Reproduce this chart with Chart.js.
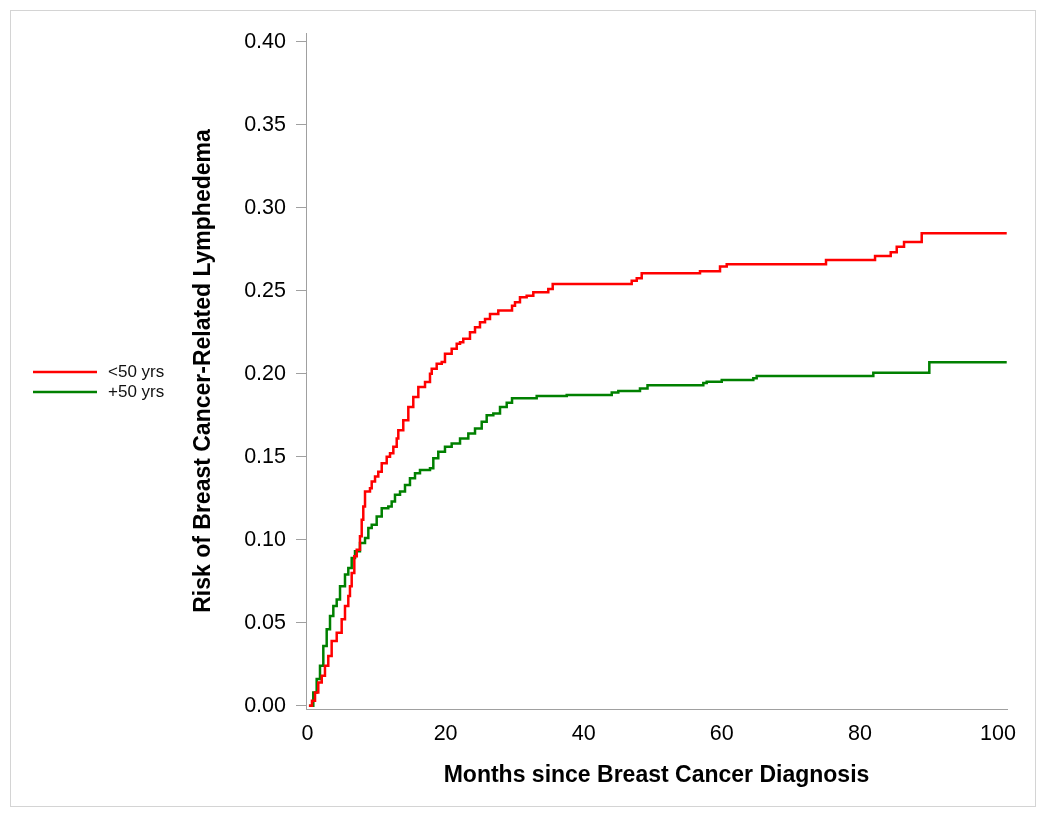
<!DOCTYPE html>
<html><head><meta charset="utf-8">
<script src="https://cdn.jsdelivr.net/npm/chart.js@4/dist/chart.umd.min.js"></script>
<style>html,body{margin:0;padding:0;background:#fff}canvas{display:block}</style>
</head><body>
<canvas id="c" width="1050" height="816"></canvas>
<script>
const seriesNames = ['<50 yrs', '+50 yrs'];
const seriesColors = ['#ff0000', '#008000'];

const under50Months = [0.2,0.65,1.09,1.56,2.06,2.53,3.01,3.50,4.23,4.95,5.43,5.91,6.15,6.40,6.78,7.13,7.60,7.85,8.08,8.33,9.05,9.30,9.78,10.25,10.75,11.47,11.95,12.43,12.92,13.15,13.87,14.60,15.32,16.05,17.02,17.74,17.99,18.71,19.44,19.91,20.88,21.61,22.09,22.56,23.53,24.26,24.98,25.71,26.43,27.63,29.62,30.05,30.77,31.74,32.70,34.87,35.51,46.95,47.68,48.40,56.84,59.74,60.71,75.09,82.19,84.46,85.33,86.39,88.95,101.26];
const under50Risk = [0.000,0.003,0.008,0.014,0.018,0.024,0.030,0.039,0.044,0.052,0.060,0.066,0.072,0.080,0.090,0.094,0.102,0.112,0.120,0.129,0.131,0.135,0.138,0.141,0.146,0.150,0.152,0.156,0.161,0.166,0.172,0.180,0.186,0.192,0.195,0.200,0.203,0.206,0.207,0.212,0.215,0.218,0.219,0.221,0.225,0.228,0.231,0.233,0.236,0.238,0.241,0.243,0.246,0.247,0.249,0.251,0.254,0.256,0.2575,0.2605,0.2617,0.2645,0.2659,0.2685,0.2709,0.2731,0.2765,0.2793,0.2846,0.2846];

const over50Months = [0.22,0.84,1.33,1.81,2.29,2.78,3.26,3.74,4.23,4.71,5.43,5.91,6.40,6.88,7.60,8.33,8.81,9.30,10.02,10.75,11.70,12.19,12.67,13.40,14.12,14.84,15.57,16.29,17.74,18.22,18.94,19.91,20.88,22.09,23.29,24.26,25.23,25.95,26.91,27.88,28.85,29.62,33.19,37.54,44.06,45.01,48.15,49.24,57.32,57.81,59.99,64.56,65.05,81.94,90.05,101.26];
const over50Risk = [0.000,0.008,0.016,0.024,0.036,0.046,0.054,0.060,0.064,0.072,0.079,0.083,0.089,0.093,0.098,0.101,0.107,0.109,0.114,0.119,0.120,0.123,0.127,0.129,0.133,0.137,0.140,0.142,0.143,0.149,0.153,0.156,0.158,0.161,0.164,0.167,0.171,0.175,0.176,0.180,0.1825,0.1852,0.1866,0.1872,0.1886,0.1895,0.1911,0.1931,0.1944,0.1952,0.1962,0.1972,0.1986,0.2006,0.2069,0.2069];

const xTickValues = [0, 20, 40, 60, 80, 100];
const yTickValues = [0, 0.05, 0.10, 0.15, 0.20, 0.25, 0.30, 0.35, 0.40];
const xAxisTitle = 'Months since Breast Cancer Diagnosis';
const yAxisTitle = 'Risk of Breast Cancer-Related Lymphedema';

const FONT = '"Liberation Sans", Arial, Helvetica, sans-serif';
const AXIS_GRAY = '#a0a0a0';

function toPoints(xs, ys) { return xs.map((x, i) => ({ x: x, y: ys[i] })); }

const frameAndLegend = {
  id: 'frameAndLegend',
  beforeDraw(chart) {
    const ctx = chart.ctx;
    ctx.save();
    ctx.fillStyle = '#ffffff';
    ctx.fillRect(0, 0, chart.width, chart.height);
    ctx.strokeStyle = '#d4d4d4';
    ctx.lineWidth = 1;
    ctx.strokeRect(10.5, 10.5, 1025, 796);
    ctx.restore();
  },
  afterDraw(chart) {
    const ctx = chart.ctx;
    ctx.save();
    chart.data.datasets.forEach((ds, i) => {
      const y = 372 + i * 20;
      ctx.strokeStyle = ds.borderColor;
      ctx.lineWidth = 2.5;
      ctx.beginPath(); ctx.moveTo(33, y); ctx.lineTo(97, y); ctx.stroke();
      ctx.fillStyle = '#111';
      ctx.font = '17px ' + FONT;
      ctx.textBaseline = 'middle';
      ctx.textAlign = 'left';
      ctx.fillText(ds.label, 108, y);
    });
    ctx.restore();
  }
};

new Chart(document.getElementById('c'), {
  type: 'line',
  data: {
    datasets: [
      { label: seriesNames[0], data: toPoints(under50Months, under50Risk), borderColor: seriesColors[0], backgroundColor: seriesColors[0], borderWidth: 2.5, pointRadius: 0, stepped: 'before', fill: false },
      { label: seriesNames[1], data: toPoints(over50Months, over50Risk), borderColor: seriesColors[1], backgroundColor: seriesColors[1], borderWidth: 2.5, pointRadius: 0, stepped: 'before', fill: false }
    ]
  },
  options: {
    responsive: false,
    animation: false,
    layout: { padding: { left: 180, top: 33, right: 43, bottom: 20 } },
    plugins: { legend: { display: false }, tooltip: { enabled: false }, title: { display: false } },
    scales: {
      x: {
        type: 'linear',
        min: -0.217, max: 101.3,
        afterBuildTicks: s => { s.ticks = xTickValues.map(v => ({ value: v })); },
        afterFit: s => { s.height = 87; },
        grid: { display: false, drawTicks: false },
        border: { display: true, color: AXIS_GRAY, width: 1 },
        ticks: { color: '#000', font: { family: FONT, size: 21.5 }, padding: 12, maxRotation: 0, autoSkip: false, callback: v => String(v) },
        title: { display: true, text: xAxisTitle, color: '#000', font: { family: FONT, size: 23, weight: 'bold', lineHeight: 1 }, padding: { top: 0, bottom: 8.5 } }
      },
      y: {
        type: 'linear',
        min: -0.002, max: 0.40524,
        afterBuildTicks: s => { s.ticks = yTickValues.map(v => ({ value: v })); },
        afterFit: s => { s.width = 126; },
        grid: { display: true, drawOnChartArea: false, drawTicks: true, tickLength: 10, color: AXIS_GRAY, lineWidth: 1 },
        border: { display: true, color: AXIS_GRAY, width: 1 },
        ticks: { color: '#000', font: { family: FONT, size: 21.5 }, padding: 10, autoSkip: false, callback: v => Number(v).toFixed(2) },
        title: { display: true, text: yAxisTitle, color: '#000', font: { family: FONT, size: 23, weight: 'bold', lineHeight: 1 }, padding: { top: 12.5, bottom: 0 } }
      }
    }
  },
  plugins: [frameAndLegend]
});
</script>
</body></html>
